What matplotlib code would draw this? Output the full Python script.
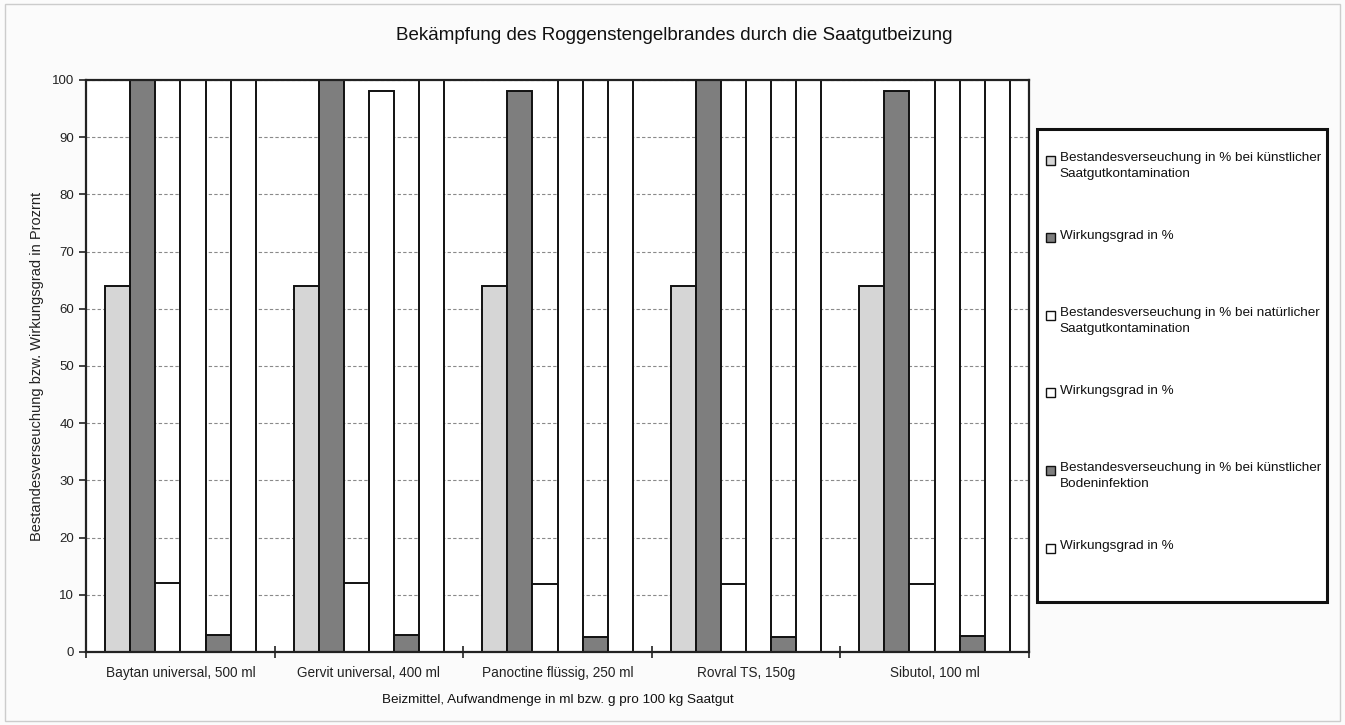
import numpy as np
import matplotlib
matplotlib.use("Agg")
import matplotlib.pyplot as plt
from matplotlib.patches import Rectangle

plt.rcParams['font.family'] = ['Liberation Sans', 'DejaVu Sans']

# Daten
beizmittel = ['Baytan universal, 500 ml', 'Gervit universal, 400 ml',
              'Panoctine flüssig, 250 ml', 'Rovral TS, 150g', 'Sibutol, 100 ml']

serien = ['Bestandesverseuchung in % bei künstlicher\nSaatgutkontamination',
          'Wirkungsgrad in %',
          'Bestandesverseuchung in % bei natürlicher\nSaatgutkontamination',
          'Wirkungsgrad in %',
          'Bestandesverseuchung in % bei künstlicher\nBodeninfektion',
          'Wirkungsgrad in %']

verseuchung_kuenstl_saat = [64, 64, 64, 64, 64]
wirkung_kuenstl_saat = [100, 100, 98, 100, 98]
verseuchung_natuerl_saat = [12, 12, 11.8, 11.8, 11.8]
wirkung_natuerl_saat = [100, 98, 100, 100, 100]
verseuchung_boden = [2.9, 2.9, 2.6, 2.6, 2.8]
wirkung_boden = [100, 100, 100, 100, 100]

werte = [verseuchung_kuenstl_saat, wirkung_kuenstl_saat, verseuchung_natuerl_saat,
         wirkung_natuerl_saat, verseuchung_boden, wirkung_boden]
farben = ['#d6d6d6', '#7e7e7e', 'white', 'white', '#7e7e7e', 'white']

fig = plt.figure(figsize=(13.45, 7.25), dpi=100, facecolor='#fbfbfb')
ax = fig.add_axes([0.064, 0.1007, 0.701, 0.789])
ax.set_facecolor('white')

x = np.arange(len(beizmittel))
breite = 0.8 / len(serien)
for i, (w, f) in enumerate(zip(werte, farben)):
    ax.bar(x - 0.4 + breite * (i + 0.5), w, width=breite, color=f,
           edgecolor='#111111', linewidth=1.4, zorder=2)

ax.set_xlim(-0.5, len(beizmittel) - 0.5)
ax.set_ylim(0, 100)
ax.set_yticks(range(0, 101, 10))
ax.yaxis.grid(True, color='#8a8a8a', linewidth=0.8, linestyle=(0, (3, 2)), zorder=0)

ax.set_xticks(x)
ax.set_xticklabels(beizmittel, fontsize=9.8, color='#222222')
ax.tick_params(axis='x', length=0, pad=10)
ax.set_xticks(np.arange(-0.5, len(beizmittel)), minor=True)
ax.tick_params(axis='x', which='minor', direction='inout', length=8, width=1.2, color='#222222')
ax.tick_params(axis='y', direction='out', length=5, width=1.2, labelsize=9.5,
               labelcolor='#222222', color='#222222')

for s in ax.spines.values():
    s.set_linewidth(1.6)
    s.set_color('#222222')

ax.set_xlabel('Beizmittel, Aufwandmenge in ml bzw. g pro 100 kg Saatgut', fontsize=9.7,
              color='#111111', labelpad=10)
ax.set_ylabel('Bestandesverseuchung bzw. Wirkungsgrad in Prozrnt', fontsize=10.5,
              color='#222222', labelpad=6)

fig.text(0.501, 0.951, 'Bekämpfung des Roggenstengelbrandes durch die Saatgutbeizung',
         ha='center', va='center', fontsize=13.5, color='#111111')

# Legende (manuell gezeichnet)
W, H = 1345, 725
fig.add_artist(Rectangle((1037 / W, 1 - 602 / H), 290 / W, 473 / H,
                         transform=fig.transFigure, facecolor='white',
                         edgecolor='#111111', linewidth=2.2))
for i, (lab, f) in enumerate(zip(serien, farben)):
    yz = 160 + i * 77.6
    fig.add_artist(Rectangle((1046 / W, 1 - (yz + 4.5) / H), 9 / W, 9 / H,
                             transform=fig.transFigure, facecolor=f,
                             edgecolor='#111111', linewidth=1))
    fig.text(1059.5 / W, 1 - (yz - 8) / H, lab, ha='left', va='top', fontsize=9.7,
             color='#111111', linespacing=1.4)

fig.add_artist(Rectangle((0.004, 0.006), 0.992, 0.988, transform=fig.transFigure,
                         fill=False, edgecolor='#cccccc', linewidth=1))

fig.savefig('out.png', dpi=100, facecolor=fig.get_facecolor())
